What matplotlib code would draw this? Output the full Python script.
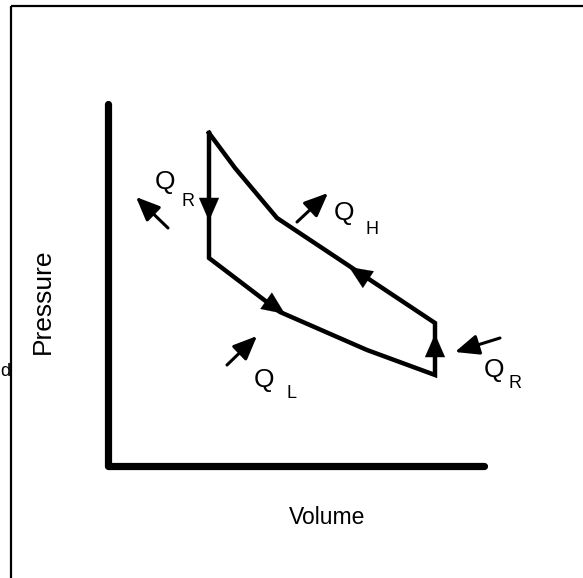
import matplotlib
matplotlib.use("Agg")
import matplotlib.pyplot as plt
from matplotlib.patches import Rectangle

plt.rcParams['font.family'] = ['Liberation Sans', 'DejaVu Sans']

# Diagram geometry (pixel-like coordinates, y grows downward)
cycle_x = [209, 209, 280, 367, 435, 435, 277, 235, 209]
cycle_y = [133, 258, 312, 350, 375, 323, 218, 168, 133]

axis_x = [108, 108, 484]
axis_y = [104, 466, 466]

# arrowheads on the cycle: (tail, tip)
flow_tails = [(209, 190), (258, 295), (435, 362), (375, 284)]
flow_tips = [(209, 221), (285, 314), (435, 334), (349, 267)]

# heat arrows (tail, tip)
heat_tails = [(168, 228), (297, 222), (227, 365), (500, 338)]
heat_tips = [(136, 197), (328, 193), (257, 336), (455, 352)]

heat_labels = ["Q", "Q", "Q", "Q"]
heat_subs = ["R", "H", "L", "R"]
label_pos = [(165, 182), (344, 213), (264, 380), (494, 370)]
sub_pos = [(188, 201), (372, 229), (291, 394), (515, 384)]

fig = plt.figure(figsize=(5.83, 5.78), dpi=100)
ax = fig.add_axes([0, 0, 1, 1])
ax.set_xlim(0, 583)
ax.set_ylim(578, 0)
ax.axis('off')

# frame
ax.add_patch(Rectangle((11, 6), 600, 600, fill=False, lw=1.6, ec='black'))

# axes
ax.plot(axis_x, axis_y, color='black', lw=5.2, solid_capstyle='round',
        solid_joinstyle='round')

# cycle
ax.plot(cycle_x, cycle_y, color='black', lw=3.2, solid_joinstyle='miter')

for t, h in zip(flow_tails, flow_tips):
    ax.annotate('', xy=h, xytext=t,
                arrowprops=dict(arrowstyle='-|>,head_length=1.65,head_width=0.72',
                                color='black', lw=0.1, shrinkA=0, shrinkB=0))

for t, h in zip(heat_tails, heat_tips):
    ax.annotate('', xy=h, xytext=t,
                arrowprops=dict(arrowstyle='-|>,head_length=1.45,head_width=0.62',
                                color='black', lw=2.2, shrinkA=0, shrinkB=0))

for lab, p in zip(heat_labels, label_pos):
    ax.text(p[0], p[1], lab, fontsize=19, ha='center', va='center')
for s, p in zip(heat_subs, sub_pos):
    ax.text(p[0], p[1], s, fontsize=13, ha='center', va='center')

ax.text(43, 301, "Pressure", fontsize=19, rotation=90, ha='center', va='center')
ax.text(327, 518, "Volume", fontsize=16.5, ha='center', va='center')
ax.text(0, 372, "d", fontsize=13, ha='left', va='center')

fig.savefig("out.png", dpi=100)
